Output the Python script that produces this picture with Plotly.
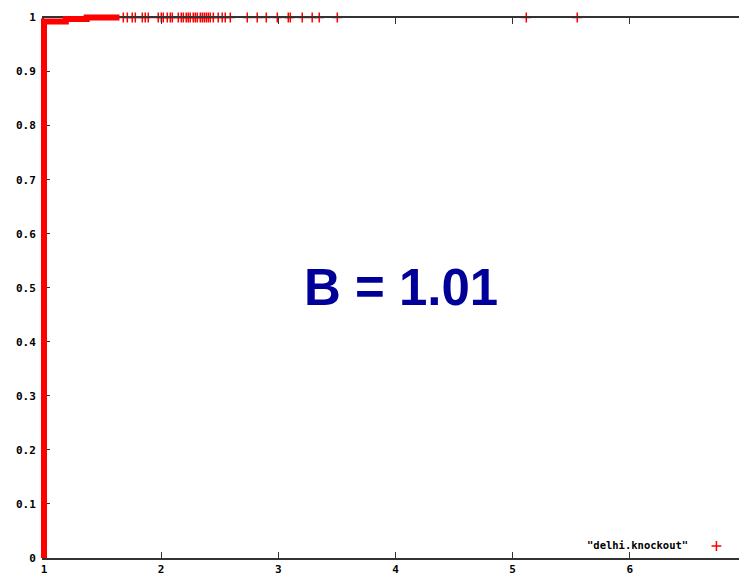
import plotly.graph_objects as go

# Dense run of sorted values (drawn as a thick stepped path)
dense_x = [1.0, 1.0, 1.186, 1.186, 1.364, 1.364, 1.644]
dense_y = [0.0, 0.9926, 0.9926, 0.9972, 0.9972, 1.0, 1.0]

# Scattered points along y = 1
top_x = [1.677, 1.711, 1.753, 1.779, 1.839, 1.864, 1.890, 1.975, 2.001, 2.018,
         2.052, 2.078, 2.095, 2.146, 2.172, 2.189, 2.214, 2.231, 2.248, 2.274,
         2.291, 2.308, 2.334, 2.351, 2.368, 2.385, 2.402, 2.419, 2.445, 2.487,
         2.521, 2.547, 2.590, 2.735, 2.820, 2.897, 2.991, 3.085, 3.102, 3.204,
         3.289, 3.349, 3.503, 5.116, 5.551]
top_y = [1.0] * len(top_x)

x_ticks = [1, 2, 3, 4, 5, 6, 7]
x_tick_labels = ["1", "2", "3", "4", "5", "6", "7"]
y_ticks = [0, 0.1, 0.2, 0.3, 0.4, 0.5, 0.6, 0.7, 0.8, 0.9, 1]
y_tick_labels = ["0", "0.1", "0.2", "0.3", "0.4", "0.5", "0.6", "0.7", "0.8", "0.9", "1"]

series_name = '"delhi.knockout"'
annotation_text = "B = 1.01"

# ---- layout geometry (figure pixels; page body adds an 8px offset) ----
W, H = 747, 574
ML, MR, MT, MB = 28, 8, 4, 24
area_w = W - ML - MR          # 711
area_h = H - MT - MB          # 546
pad_l = 8                     # room on the left of x=1 for the thick line
pad_t = 5.5                   # room above y=1 for the thick line
x_rng = [1, 7]
y_rng = [0, 1]
px_per_x = (area_w - pad_l) / (x_rng[1] - x_rng[0])
px_per_y = (area_h - pad_t) / (y_rng[1] - y_rng[0])
x2_rng = [x_rng[0] - pad_l / px_per_x, x_rng[1]]
y2_rng = [y_rng[0], y_rng[1] + pad_t / px_per_y]

mono = dict(family="DejaVu Sans Mono", size=11, color="black", weight="bold")
legend_font = dict(family="DejaVu Sans Mono", size=10.5, color="black", weight="bold")

fig = go.Figure()
fig.add_trace(go.Scatter(
    x=dense_x, y=dense_y, mode="lines", xaxis="x2", yaxis="y2",
    line=dict(color="red", width=6), showlegend=False, hoverinfo="skip",
))
fig.add_trace(go.Scatter(
    x=top_x, y=top_y, mode="markers", name=" ",
    marker=dict(symbol="cross-thin", size=7, line=dict(color="red", width=1.5), color="red"),
    cliponaxis=False,
))

fig.update_layout(
    width=W, height=H,
    margin=dict(l=ML, r=MR, t=MT, b=MB, autoexpand=False),
    paper_bgcolor="white", plot_bgcolor="rgba(0,0,0,0)",
    showlegend=True,
    legend=dict(
        x=1.002, xanchor="right", y=0.022, yanchor="middle",
        bgcolor="rgba(0,0,0,0)", font=legend_font, itemwidth=30, tracegroupgap=0,
    ),
    annotations=[
        dict(
            text=annotation_text, x=0.5127, y=0.4963, xref="paper", yref="paper",
            showarrow=False, xanchor="center", yanchor="middle",
            font=dict(family="Liberation Sans", size=51, color="#000099", weight="bold"),
        ),
        dict(
            text=series_name, x=0.9198, y=0.0238, xref="paper", yref="paper",
            showarrow=False, xanchor="right", yanchor="middle", font=legend_font,
        ),
    ],
    xaxis=dict(
        domain=[pad_l / area_w, 1], range=x_rng, tickvals=x_ticks, ticktext=x_tick_labels,
        showgrid=False, zeroline=False, showline=True, linecolor="#333", linewidth=2,
        mirror="ticks", ticks="inside", ticklen=6, tickcolor="#333", tickwidth=1,
        tickfont=mono, automargin=False, ticklabelstandoff=0, anchor="y",
    ),
    yaxis=dict(
        domain=[0, 1 - pad_t / area_h], range=y_rng, tickvals=y_ticks, ticktext=y_tick_labels,
        showgrid=False, zeroline=False, showline=True, linecolor="#333", linewidth=2,
        mirror="ticks", ticks="inside", ticklen=6, tickcolor="#333", tickwidth=1,
        tickfont=mono, automargin=False, ticklabelstandoff=4, anchor="x",
    ),
    xaxis2=dict(domain=[0, 1], range=x2_rng, visible=False, anchor="y2", showgrid=False, zeroline=False),
    yaxis2=dict(domain=[0, 1], range=y2_rng, visible=False, anchor="x2", showgrid=False, zeroline=False),
)

fig.write_html("out.html")
